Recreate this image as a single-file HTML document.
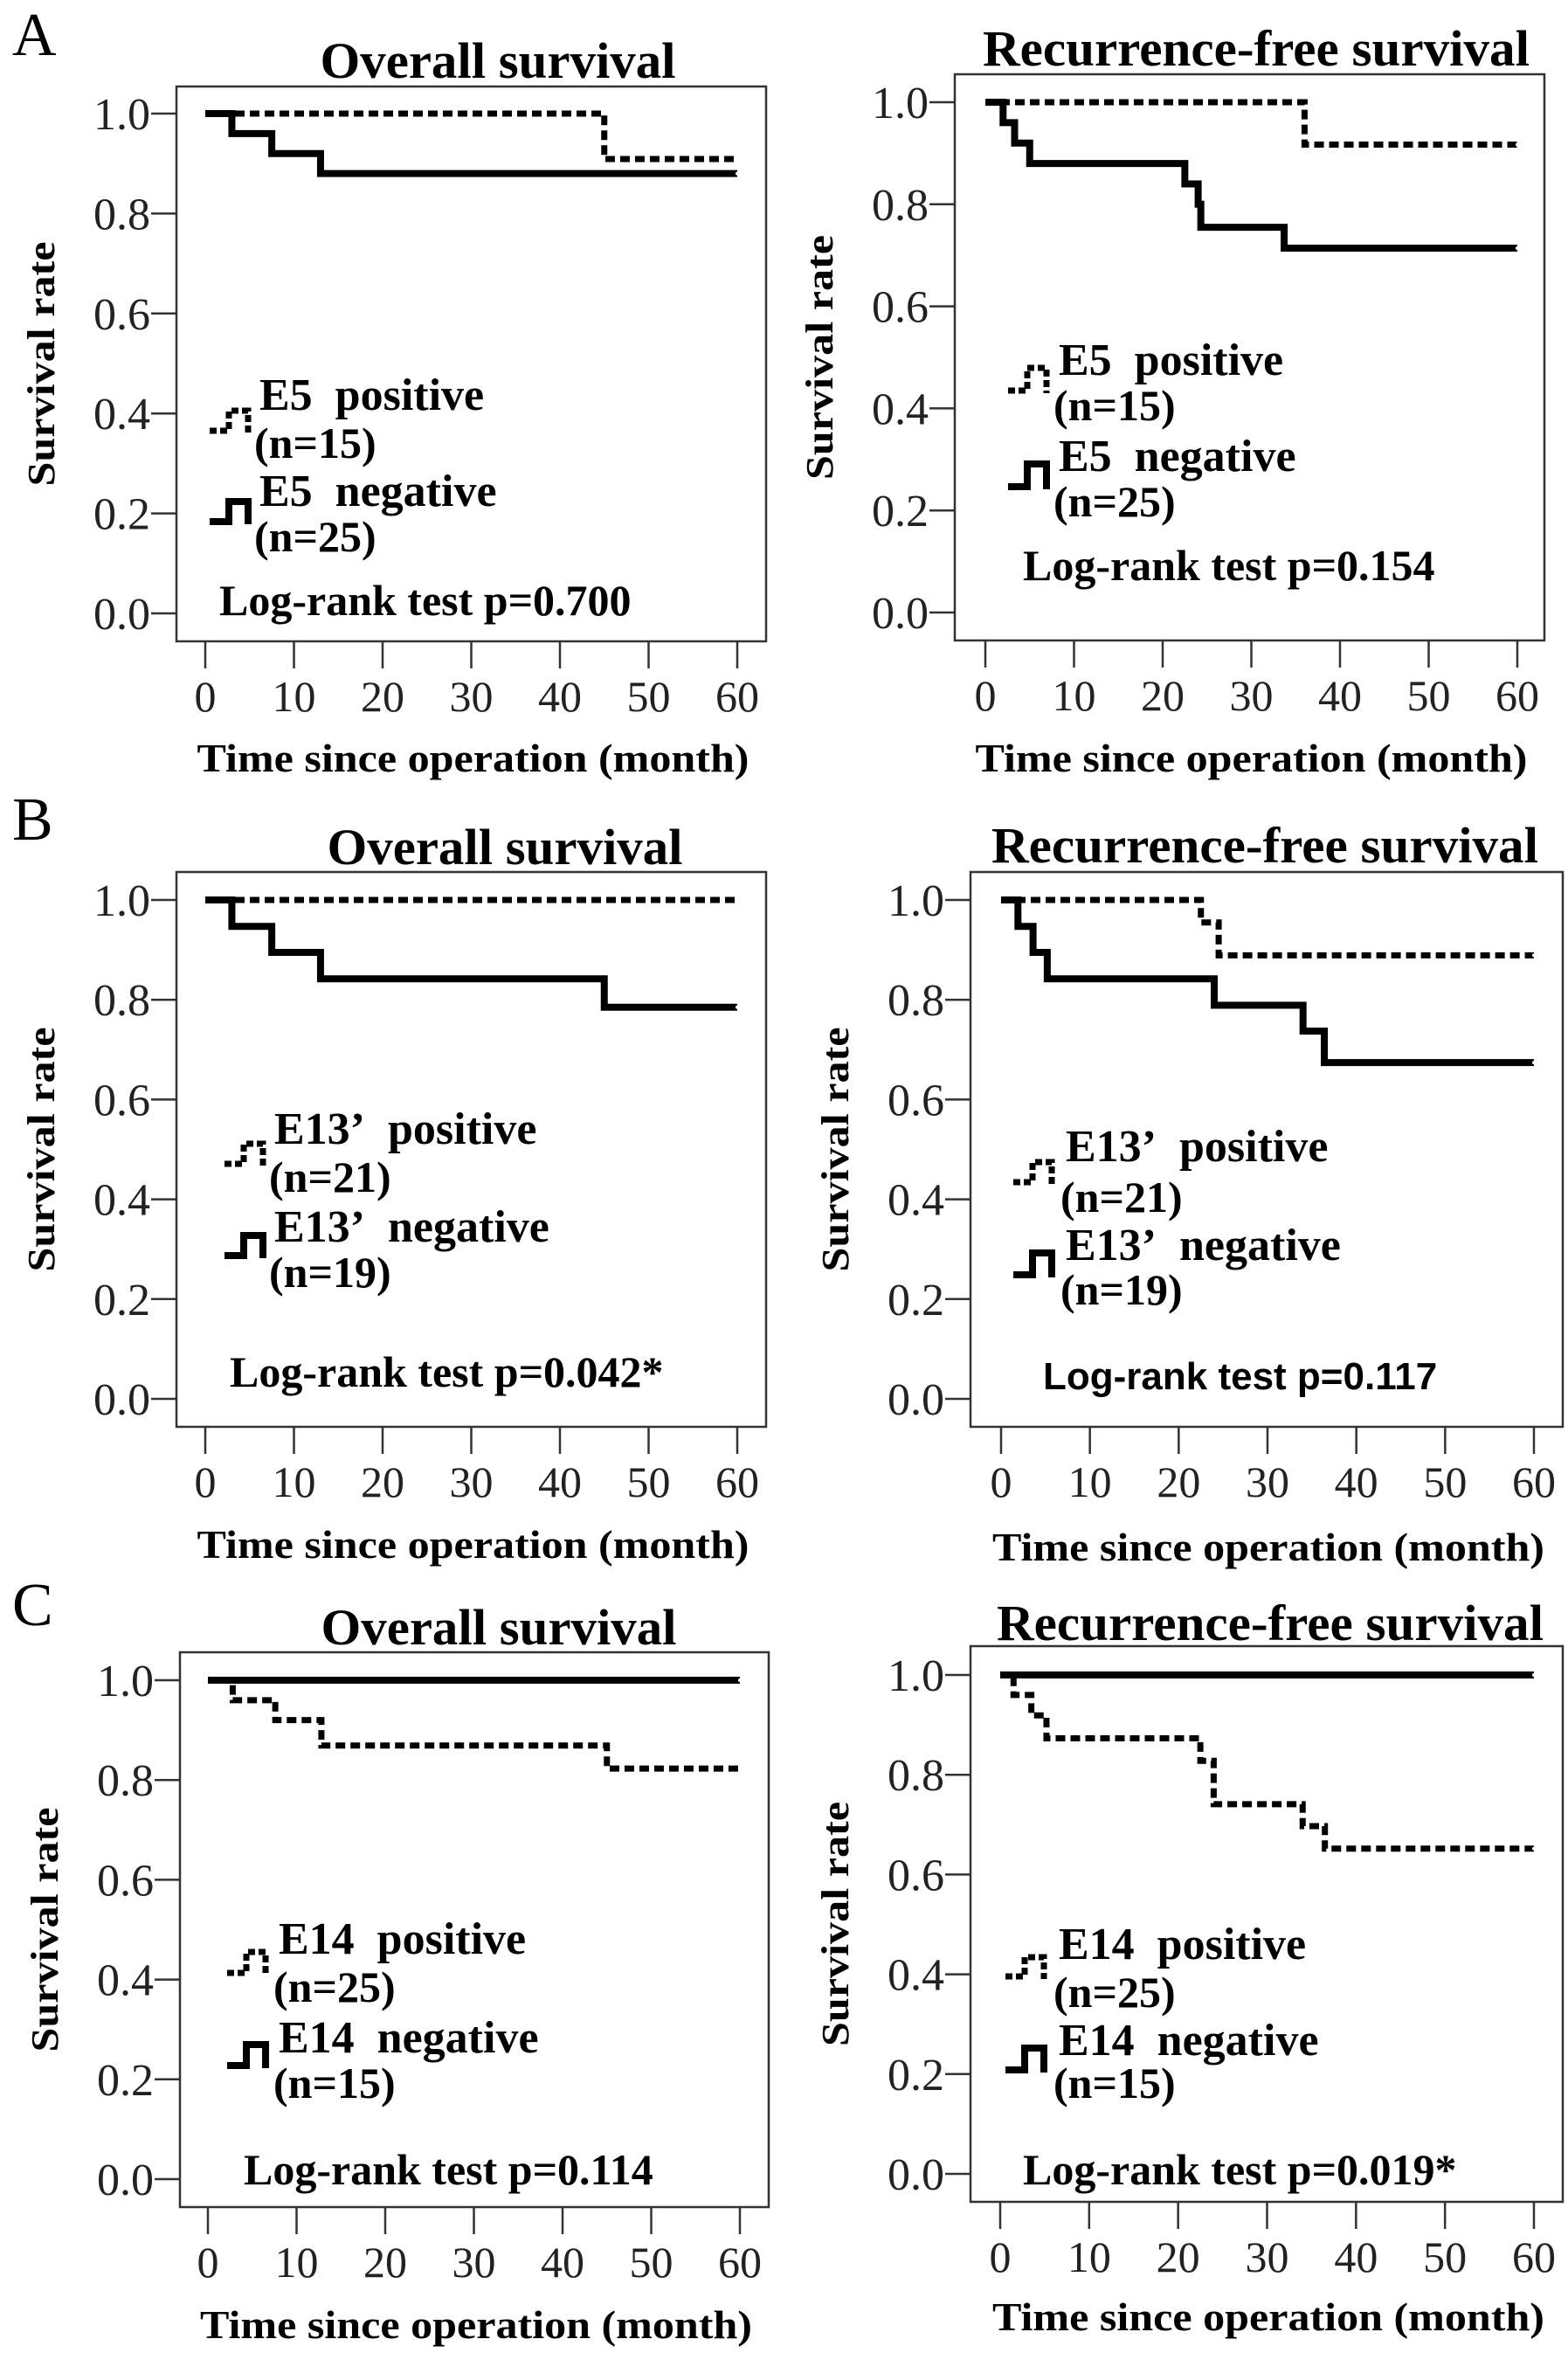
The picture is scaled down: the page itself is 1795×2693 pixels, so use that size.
<!DOCTYPE html>
<html><head><meta charset="utf-8"><style>
html,body{margin:0;padding:0;background:#fff;}
svg{display:block;}
</style></head><body>
<svg id="fig" xmlns="http://www.w3.org/2000/svg" width="1795" height="2693" viewBox="0 0 1795 2693">
<rect x="0" y="0" width="1795" height="2693" fill="#fff"/>
<text x="14" y="63" font-family="Liberation Serif, serif" font-size="70">A</text>
<text x="14" y="961" font-family="Liberation Serif, serif" font-size="70">B</text>
<text x="14" y="1860" font-family="Liberation Serif, serif" font-size="70">C</text>
</svg>
<script>
// ---- data (month of step, survival after step) ----
const xTickValues = [0,10,20,30,40,50,60];
const yTickValues = [0.0,0.2,0.4,0.6,0.8,1.0];
const yTickLabels = ["0.0","0.2","0.4","0.6","0.8","1.0"];

const aOsPosTimes = [45];           const aOsPosSurv = [0.909];
const aOsNegTimes = [3,7.5,13];     const aOsNegSurv = [0.96,0.92,0.88];
const aRfsPosTimes = [36];          const aRfsPosSurv = [0.917];
const aRfsNegTimes = [2,3.3,5,22.5,24,24.3,33.7]; const aRfsNegSurv = [0.96,0.92,0.88,0.84,0.80,0.755,0.714];
const bOsPosTimes = [];             const bOsPosSurv = [];
const bOsNegTimes = [3,7.5,13,45];  const bOsNegSurv = [0.947,0.895,0.842,0.785];
const bRfsPosTimes = [22.5,24.5];   const bRfsPosSurv = [0.955,0.889];
const bRfsNegTimes = [1.9,3.6,5.2,24,34,36.4]; const bRfsNegSurv = [0.947,0.895,0.842,0.789,0.737,0.674];
const cOsPosTimes = [2.8,7.6,12.8,45]; const cOsPosSurv = [0.96,0.92,0.869,0.823];
const cOsNegTimes = [];             const cOsNegSurv = [];
const cRfsPosTimes = [1.5,3.5,5.2,22.5,24,34,36.5]; const cRfsPosSurv = [0.96,0.919,0.873,0.828,0.741,0.697,0.652];
const cRfsNegTimes = [];            const cRfsNegSurv = [];

const NS = "http://www.w3.org/2000/svg";
const svg = document.getElementById('fig');
function mk(tag, attrs, parent){ const e=document.createElementNS(NS,tag); for(const k in attrs) e.setAttribute(k,attrs[k]); (parent||svg).appendChild(e); return e; }

const panels = [
 {id:'a-os', title:'Overall survival', L:202,R:877,T:99,B:734,y1:130,y0:702,x0:235,x60:844, tb:89, tc:570, xtb:883,
  pos:[aOsPosTimes,aOsPosSurv], neg:[aOsNegTimes,aOsNegSurv], gene:'E5', np:'15', nn:'25',
  lg:{sx:240,tx:297,b:[467,522,577,629],ps:[493,470],ns:[597,574]}, lr:{x:251,y:704,t:'Log-rank test p=0.700',sans:false}},
 {id:'a-rfs', title:'Recurrence-free survival', L:1093,R:1768,T:85,B:733,y1:117,y0:701,x0:1128,x60:1737, tb:75, tc:1438, xtb:883,
  pos:[aRfsPosTimes,aRfsPosSurv], neg:[aRfsNegTimes,aRfsNegSurv], gene:'E5', np:'15', nn:'25',
  lg:{sx:1154,tx:1212,b:[427,479,537,589],ps:[447,421],ns:[557,531]}, lr:{x:1171,y:664,t:'Log-rank test p=0.154',sans:false}},
 {id:'b-os', title:'Overall survival', L:202,R:877,T:998,B:1633,y1:1030,y0:1601,x0:235,x60:844, tb:989, tc:578, xtb:1783,
  pos:[bOsPosTimes,bOsPosSurv], neg:[bOsNegTimes,bOsNegSurv], gene:'E13\u2019', np:'21', nn:'19',
  lg:{sx:257,tx:314,b:[1307,1362,1419,1471],ps:[1332,1309],ns:[1437,1414]}, lr:{x:263,y:1587,t:'Log-rank test p=0.042*',sans:false}},
 {id:'b-rfs', title:'Recurrence-free survival', L:1111,R:1789,T:998,B:1633,y1:1030,y0:1601,x0:1146,x60:1756, tb:987, tc:1448, xtb:1786,
  pos:[bRfsPosTimes,bRfsPosSurv], neg:[bRfsNegTimes,bRfsNegSurv], gene:'E13\u2019', np:'21', nn:'19',
  lg:{sx:1160,tx:1220,b:[1327,1385,1440,1491],ps:[1353,1330],ns:[1459,1434]}, lr:{x:1194,y:1590,t:'Log-rank test p=0.117',sans:true}},
 {id:'c-os', title:'Overall survival', L:206,R:880,T:1891,B:2526,y1:1923,y0:2494,x0:238,x60:847, tb:1882, tc:571, xtb:2676,
  pos:[cOsPosTimes,cOsPosSurv], neg:[cOsNegTimes,cOsNegSurv], gene:'E14', np:'25', nn:'15',
  lg:{sx:260,tx:319,b:[2234,2289,2347,2399],ps:[2258,2234],ns:[2364,2340]}, lr:{x:279,y:2500,t:'Log-rank test p=0.114',sans:false}},
 {id:'c-rfs', title:'Recurrence-free survival', L:1111,R:1789,T:1884,B:2520,y1:1917,y0:2488,x0:1145,x60:1756, tb:1877, tc:1454, xtb:2667,
  pos:[cRfsPosTimes,cRfsPosSurv], neg:[cRfsNegTimes,cRfsNegSurv], gene:'E14', np:'25', nn:'15',
  lg:{sx:1151,tx:1212,b:[2240,2295,2350,2399],ps:[2262,2240],ns:[2369,2344]}, lr:{x:1171,y:2500,t:'Log-rank test p=0.019*',sans:false}}
];

const SERIF = "Liberation Serif, serif";
panels.forEach(p=>{
  const g = mk('g',{});
  
  
  const xs = t => p.x0 + (t - xTickValues[0])/(xTickValues[xTickValues.length-1]-xTickValues[0])*(p.x60-p.x0);
  const ys = v => p.y0 - v*(p.y0-p.y1);
  const xEnd = xTickValues[xTickValues.length-1];

  const isRfs = p.title.length > 20;
  const title = mk('text',{x:p.tc,y:p.tb,'text-anchor':'middle','font-family':SERIF,'font-weight':'bold','font-size':58,textLength:isRfs?626:407,lengthAdjust:'spacingAndGlyphs'},g);
  title.textContent = p.title;
  
  

  const frame = mk('rect',{x:p.L,y:p.T,width:p.R-p.L,height:p.B-p.T,fill:'none',stroke:'#333',"stroke-width":2.5},g);
  
  

  yTickValues.forEach((v,i)=>{
    const y = ys(v);
    const tk = mk('line',{x1:p.L-29,x2:p.L,y1:y,y2:y,stroke:'#333','stroke-width':2.5},g);
    
    
    const t = mk('text',{x:p.L-30,y:y+18,'text-anchor':'end','font-family':SERIF,'font-size':52,fill:'#222'},g);
    t.textContent = yTickLabels[i];
    
    
  });
  xTickValues.forEach(v=>{
    const x = xs(v);
    const tk = mk('line',{x1:x,x2:x,y1:p.B,y2:p.B+31,stroke:'#333','stroke-width':2.5},g);
    
    
    const t = mk('text',{x:x,y:p.B+80,'text-anchor':'middle','font-family':SERIF,'font-size':50,fill:'#222'},g);
    t.textContent = String(v);
    
    
  });

  const xt = mk('text',{x:(p.L+p.R)/2+2,y:p.xtb,'text-anchor':'middle','font-family':SERIF,'font-weight':'bold','font-size':46,textLength:632,lengthAdjust:'spacingAndGlyphs'},g);
  xt.textContent = 'Time since operation (month)';
  
  

  const cy = (p.T+p.B)/2, cx = p.L-140;
  const yt = mk('text',{x:0,y:0,'text-anchor':'middle','font-family':SERIF,'font-weight':'bold','font-size':44,textLength:280,lengthAdjust:'spacingAndGlyphs',transform:`translate(${cx},${cy}) rotate(-90)`},g);
  yt.textContent = 'Survival rate';
  
  

  function curve(times, surv, dashed, name){
    let d = `M${xs(0)},${ys(1)}`;
    for(let i=0;i<times.length;i++){ d += ` H${xs(times[i])} V${ys(surv[i])}`; }
    d += ` H${xs(xEnd)}`;
    const attrs = {d:d,fill:'none',stroke:'#000','stroke-width':dashed?7:8,'stroke-linejoin':'miter'};
    if(dashed){ attrs['stroke-dasharray']='11 6'; }
    const path = mk('path',attrs,g);
    
    
    const last = surv.length? surv[surv.length-1] : 1;
    const c = mk('circle',{cx:xs(xEnd),cy:ys(last),r:2,fill:'#fff'},g);
    
    
  }
  curve(p.neg[0],p.neg[1],false,'negative-curve');
  curve(p.pos[0],p.pos[1],true,'positive-curve');

  const lg=p.lg;
  function sym(low,high,dashed,name){
    const d=`M${lg.sx},${low} H${lg.sx+22} V${high} H${lg.sx+44} V${low+3}`;
    const a={d:d,fill:'none',stroke:'#000','stroke-width':dashed?7:8};
    if(dashed) a['stroke-dasharray']='8 4';
    const s=mk('path',a,g);
    
    
  }
  sym(lg.ps[0],lg.ps[1],true,'legend-positive-symbol');
  sym(lg.ns[0],lg.ns[1],false,'legend-negative-symbol');
  const lines=[p.gene+'\u00a0\u00a0positive','(n='+p.np+')',p.gene+'\u00a0\u00a0negative','(n='+p.nn+')'];
  lines.forEach((s,i)=>{
    const t=mk('text',{x:lg.tx-(i%2?6:0),y:lg.b[i]+2,'font-family':SERIF,'font-weight':'bold','font-size':(i%2?50:52)},g);
    t.textContent=s;
    
    
  });
  const lr=mk('text',{x:p.lr.x,y:p.lr.y,'font-family':p.lr.sans?'Liberation Sans, sans-serif':SERIF,'font-weight':'bold','font-size':p.lr.sans?44:50},g);
  lr.textContent=p.lr.t;
  
  
});
</script>
</body></html>
